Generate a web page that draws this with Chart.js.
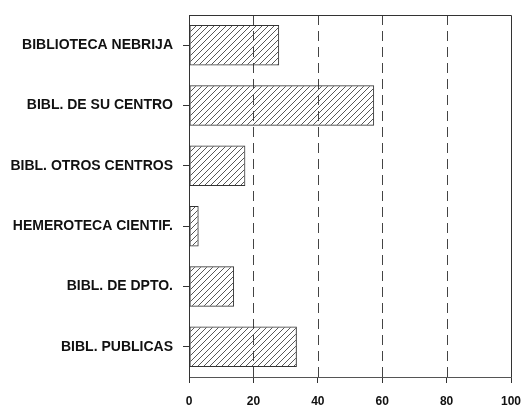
<!DOCTYPE html>
<html>
<head>
<meta charset="utf-8">
<script src="https://cdn.jsdelivr.net/npm/chart.js@4"></script>
<style>
  html, body { margin: 0; padding: 0; background: #fff; }
  #wrap { width: 527px; height: 407px; }
</style>
</head>
<body>
<div id="wrap"><canvas id="chart" width="527" height="407"></canvas></div>
<script>
// Data
const categories = ["BIBLIOTECA NEBRIJA", "BIBL. DE SU CENTRO", "BIBL. OTROS CENTROS",
                    "HEMEROTECA CIENTIF.", "BIBL. DE DPTO.", "BIBL. PUBLICAS"];
const values = [28, 57.5, 17.5, 3, 14, 33.5];
const xTicks = [0, 20, 40, 60, 80, 100];

// diagonal hatch fill
function hatch() {
    let c = document.createElement("canvas");
    c.width = 6; c.height = 6;
    let g = c.getContext("2d");
    g.strokeStyle = "#444";
    g.lineWidth = 0.9;
    g.beginPath();
    g.moveTo(0, 6); g.lineTo(6, 0);
    g.moveTo(-1, 1); g.lineTo(1, -1);
    g.moveTo(5, 7); g.lineTo(7, 5);
    g.stroke();
    return g.createPattern(c, "repeat");
}

// dashed grid + frame behind the bars
const framePlugin = {
    id: "frame",
    beforeDatasetsDraw(chart) {
        const ctx = chart.ctx, a = chart.chartArea, x = chart.scales.x;
        ctx.save();
        ctx.strokeStyle = "#444";
        ctx.lineWidth = 1;
        ctx.setLineDash([10, 6]);
        xTicks.slice(1, -1).forEach(v => {
            let px = Math.round(x.getPixelForValue(v)) + 0.5;
            ctx.beginPath();
            ctx.moveTo(px, a.top);
            ctx.lineTo(px, a.bottom);
            ctx.stroke();
        });
        ctx.setLineDash([]);
        ctx.strokeStyle = "#333";
        ctx.beginPath();
        ctx.moveTo(a.left, a.top + 0.5);
        ctx.lineTo(a.right + 0.5, a.top + 0.5);
        ctx.lineTo(a.right + 0.5, a.bottom);
        ctx.stroke();
        ctx.restore();
    }
};

new Chart(document.getElementById("chart"), {
    type: "bar",
    data: {
        labels: categories,
        datasets: [{
            data: values,
            backgroundColor: hatch(),
            borderColor: "#333",
            borderWidth: 1,
            borderSkipped: false,
            categoryPercentage: 1,
            barPercentage: 0.67
        }]
    },
    options: {
        indexAxis: "y",
        responsive: false,
        animation: false,
        layout: { padding: { top: 15, right: 16, left: 0, bottom: 0 } },
        plugins: { legend: { display: false }, tooltip: { enabled: false } },
        scales: {
            x: {
                min: 0, max: 100,
                afterBuildTicks: s => { s.ticks = xTicks.map(v => ({ value: v })); },
                afterFit: s => { s.height = 30; s.paddingLeft = 0; s.paddingRight = 0; },
                grid: { drawOnChartArea: false, tickLength: 6, color: "#333" },
                border: { color: "#555", width: 1 },
                ticks: { color: "#111", padding: 11, font: { family: "Liberation Sans", size: 12, weight: "bold" } }
            },
            y: {
                afterFit: s => { s.width = 189; s.paddingTop = 0; s.paddingBottom = 0; },
                grid: { drawOnChartArea: false, offset: false, tickLength: 6, color: "#333" },
                border: { color: "#333", width: 1 },
                ticks: { color: "#111", padding: 10, font: { family: "Liberation Sans", size: 14, weight: "bold" } }
            }
        }
    },
    plugins: [framePlugin]
});
</script>
</body>
</html>
